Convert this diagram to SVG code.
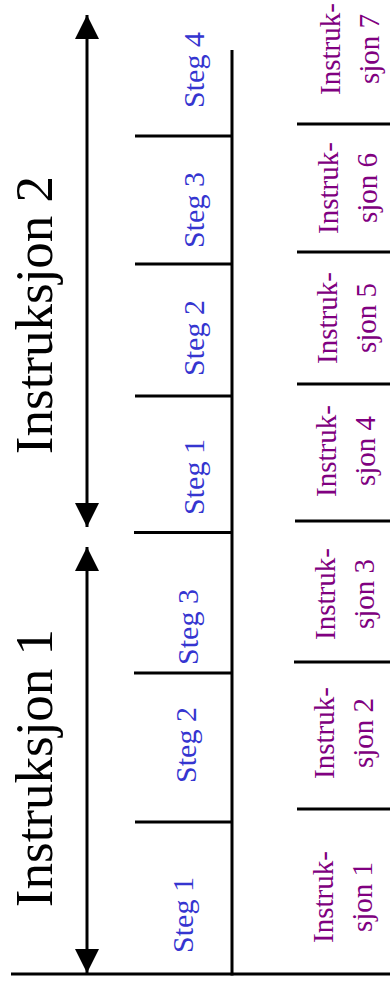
<svg xmlns="http://www.w3.org/2000/svg" width="390" height="987" viewBox="0 0 390 987">
  <style>
    .rule { stroke: #000; stroke-width: 3; fill: none; }
    .shaft { stroke: #000; stroke-width: 3; fill: none; }
    .big { font-family: "Liberation Serif", "Times New Roman", serif; font-size: 53px; fill: #000; text-anchor: middle; }
    .steg { font-family: "Liberation Serif", "Times New Roman", serif; font-size: 30px; fill: #3535d0; text-anchor: middle; }
    .instr { font-family: "Liberation Serif", "Times New Roman", serif; font-size: 29px; fill: #800080; text-anchor: middle; }
  </style>
  <defs>
    <marker id="head" viewBox="0 0 24 24" refX="24" refY="12" markerWidth="24" markerHeight="24" markerUnits="userSpaceOnUse" orient="auto">
      <path d="M0,0 L24,12 L0,24 Z" fill="#000"/>
    </marker>
  </defs>

  <!-- time axis and pipeline rules -->
  <g id="connectors">
    <line class="rule" x1="11" y1="974" x2="390" y2="974"/>
    <line class="rule" x1="232" y1="50" x2="232" y2="975.5"/>
    <!-- step boundaries -->
    <line class="rule" x1="135" y1="136" x2="232" y2="136"/>
    <line class="rule" x1="135" y1="264" x2="232" y2="264"/>
    <line class="rule" x1="135" y1="396" x2="232" y2="396"/>
    <line class="rule" x1="134" y1="532.5" x2="232" y2="532.5"/>
    <line class="rule" x1="134" y1="673" x2="232" y2="673"/>
    <line class="rule" x1="135" y1="822" x2="232" y2="822"/>
    <!-- instruction boundaries -->
    <line class="rule" x1="297" y1="124" x2="390" y2="124"/>
    <line class="rule" x1="297" y1="252" x2="390" y2="252"/>
    <line class="rule" x1="297" y1="384" x2="390" y2="384"/>
    <line class="rule" x1="295" y1="521" x2="390" y2="521"/>
    <line class="rule" x1="294" y1="662" x2="390" y2="662"/>
    <line class="rule" x1="297" y1="809" x2="390" y2="809"/>
    <!-- span arrows -->
    <line class="shaft" x1="87" y1="760" x2="87" y2="547" marker-end="url(#head)"/>
    <line class="shaft" x1="87" y1="760" x2="87" y2="973" marker-end="url(#head)"/>
    <line class="shaft" x1="87" y1="270" x2="87" y2="15" marker-end="url(#head)"/>
    <line class="shaft" x1="87" y1="270" x2="87" y2="527" marker-end="url(#head)"/>
  </g>

  <!-- instruction spans -->
  <g id="span-instruksjon-1"><text class="big" transform="translate(52,768) rotate(-90)">Instruksjon 1</text></g>
  <g id="span-instruksjon-2"><text class="big" transform="translate(52,315) rotate(-90)">Instruksjon 2</text></g>

  <!-- steps -->
  <g id="steg-1a"><text class="steg" transform="translate(193,915) rotate(-90)">Steg 1</text></g>
  <g id="steg-2a"><text class="steg" transform="translate(196,745) rotate(-90)">Steg 2</text></g>
  <g id="steg-3a"><text class="steg" transform="translate(198,627) rotate(-90)">Steg 3</text></g>
  <g id="steg-1b"><text class="steg" transform="translate(204,477) rotate(-90)">Steg 1</text></g>
  <g id="steg-2b"><text class="steg" transform="translate(204,338) rotate(-90)">Steg 2</text></g>
  <g id="steg-3b"><text class="steg" transform="translate(204,210) rotate(-90)">Steg 3</text></g>
  <g id="steg-4b"><text class="steg" transform="translate(204,70) rotate(-90)">Steg 4</text></g>

  <!-- instructions in the pipeline -->
  <g id="instr-1"><text class="instr" transform="translate(333,897) rotate(-90)"><tspan x="0" y="0">Instruk-</tspan><tspan x="0" y="39">sjon 1</tspan></text></g>
  <g id="instr-2"><text class="instr" transform="translate(334,733) rotate(-90)"><tspan x="0" y="0">Instruk-</tspan><tspan x="0" y="39">sjon 2</tspan></text></g>
  <g id="instr-3"><text class="instr" transform="translate(335,594) rotate(-90)"><tspan x="0" y="0">Instruk-</tspan><tspan x="0" y="39">sjon 3</tspan></text></g>
  <g id="instr-4"><text class="instr" transform="translate(336,451) rotate(-90)"><tspan x="0" y="0">Instruk-</tspan><tspan x="0" y="39">sjon 4</tspan></text></g>
  <g id="instr-5"><text class="instr" transform="translate(337,318) rotate(-90)"><tspan x="0" y="0">Instruk-</tspan><tspan x="0" y="39">sjon 5</tspan></text></g>
  <g id="instr-6"><text class="instr" transform="translate(338,188) rotate(-90)"><tspan x="0" y="0">Instruk-</tspan><tspan x="0" y="39">sjon 6</tspan></text></g>
  <g id="instr-7"><text class="instr" transform="translate(340,49) rotate(-90)"><tspan x="0" y="0">Instruk-</tspan><tspan x="0" y="39">sjon 7</tspan></text></g>
</svg>
